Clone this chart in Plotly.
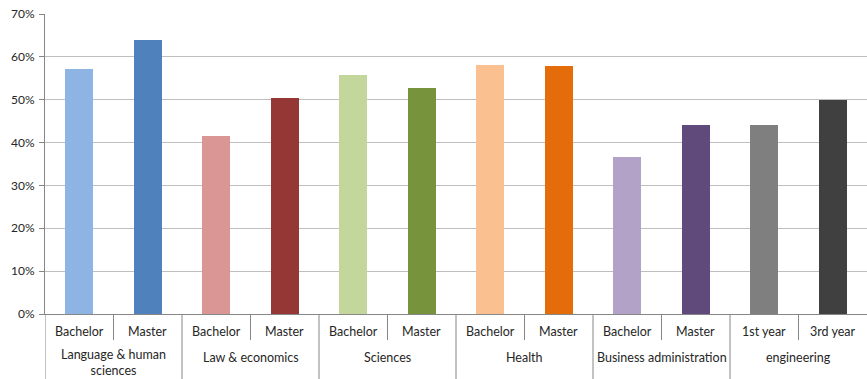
import plotly.graph_objects as go

groups = ["Language & human<br>sciences", "Law & economics", "Sciences", "Health",
          "Business administration", "engineering"]
levels = [["Bachelor", "Master"], ["Bachelor", "Master"], ["Bachelor", "Master"],
          ["Bachelor", "Master"], ["Bachelor", "Master"], ["1st year", "3rd year"]]
values = [57.2, 63.9, 41.5, 50.4, 55.8, 52.7, 58.1, 57.9, 36.6, 44.1, 44.1, 49.9]
colors = ["#8EB4E3", "#4F81BD", "#D99694", "#953735", "#C3D69B", "#77933C",
          "#FAC090", "#E46C0A", "#B3A2C7", "#604A7B", "#7F7F7F", "#404040"]

sub_labels = [l for lv in levels for l in lv]
xpos = list(range(len(sub_labels)))

fig = go.Figure(go.Bar(
    x=xpos,
    y=values,
    marker=dict(color=colors, line=dict(width=0)),
    width=0.41,
))

axis_col = "#868686"
txt_col = "#262626"
lab_font = dict(size=12.5, color=txt_col)
annotations = []
shapes = []

# sub-category labels
for i, lab in enumerate(sub_labels):
    annotations.append(dict(x=i, y=0, xref="x", yref="paper", text=lab, showarrow=False,
                            yanchor="middle", yshift=-17, font=lab_font))

# group labels, short separators inside groups, long dividers between groups
start = 0
for g, lv in zip(groups, levels):
    n = len(lv)
    center = start + (n - 1) / 2
    two_lines = "<br>" in g
    annotations.append(dict(x=center, y=0, xref="x", yref="paper", text=g, showarrow=False,
                            yanchor="top", yshift=-31 if two_lines else -34,
                            font=lab_font))
    for k in range(1, n):
        shapes.append(dict(type="line", xref="x", yref="paper", ysizemode="pixel", yanchor=0,
                           x0=start + k - 0.5, x1=start + k - 0.5, y0=0, y1=-26,
                           line=dict(color=axis_col, width=1)))
    shapes.append(dict(type="line", xref="x", yref="paper", ysizemode="pixel", yanchor=0,
                       x0=start - 0.5, x1=start - 0.5, y0=0, y1=-66,
                       line=dict(color=axis_col, width=1)))
    start += n

fig.update_layout(
    width=867, height=379,
    margin=dict(l=45, r=0, t=14, b=65),
    plot_bgcolor="white", paper_bgcolor="white",
    font=dict(family="Lato, Carlito, Calibri, sans-serif", size=12, color=txt_col),
    showlegend=False,
    bargap=0,
    annotations=annotations,
    shapes=shapes,
)
fig.update_yaxes(
    range=[0, 70], dtick=10, ticksuffix="%", automargin=False,
    showgrid=True, gridcolor="#BEBEBE", gridwidth=1,
    showline=True, linecolor=axis_col, linewidth=1,
    ticks="outside", ticklen=5, tickcolor=axis_col,
    ticklabelstandoff=2, zeroline=False,
)
fig.update_xaxes(
    range=[-0.5, len(sub_labels) - 0.5], automargin=False,
    showticklabels=False, showgrid=False,
    showline=True, linecolor=axis_col, linewidth=1,
    zeroline=False,
)

# drop the default page margin so the figure sits at the window's corner
fig.write_html("out.html", config={"displayModeBar": False},
               post_script="document.body.style.margin='0';")
